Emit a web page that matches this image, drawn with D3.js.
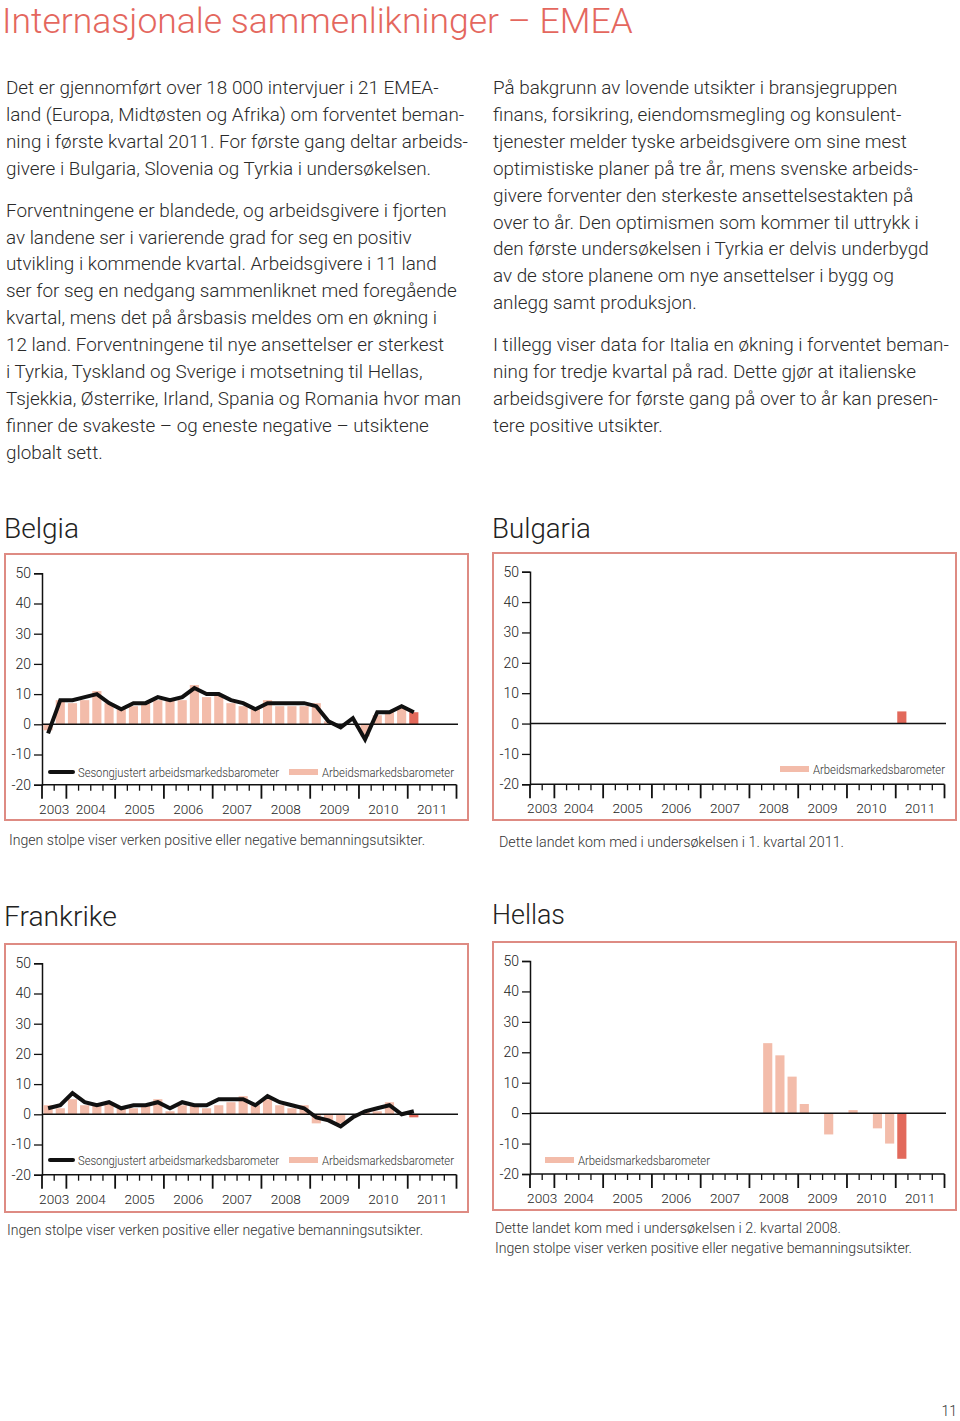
<!DOCTYPE html>
<html><head><meta charset="utf-8">
<script src="https://cdn.jsdelivr.net/npm/d3@7"></script>
<style>
body{margin:0;background:#fff}
svg{display:block}
text{font-family:Roboto,"Liberation Sans",sans-serif;}
</style>
</head><body>
<svg id="c" width="960" height="1421"></svg>
<script>
// ---------- DATA ----------
const axisQuarters = ["2003 K3","2003 K4",
  "2004 K1","2004 K2","2004 K3","2004 K4",
  "2005 K1","2005 K2","2005 K3","2005 K4",
  "2006 K1","2006 K2","2006 K3","2006 K4",
  "2007 K1","2007 K2","2007 K3","2007 K4",
  "2008 K1","2008 K2","2008 K3","2008 K4",
  "2009 K1","2009 K2","2009 K3","2009 K4",
  "2010 K1","2010 K2","2010 K3","2010 K4",
  "2011 K1","2011 K2","2011 K3","2011 K4"];
const yearLabels = ["2003","2004","2005","2006","2007","2008","2009","2010","2011"];
const yTicks = [50,40,30,20,10,0,-10,-20];

// Belgia: 2003 K3 .. 2011 K1
const belgiumLine = [-3,8,8,9,10,7,5,7,7,9,8,9,12,10,10,8,7,5,7,7,7,7,6,1,-1,2,-5,4,4,6,4];
const belgiumBars = [-2,8,7,8,11,7,5,6,7,8,8,8,13,9,10,7,6,5,8,6,6,6,7,1,0,0,-4,3,4,6,4];
// Frankrike: 2003 K3 .. 2011 K1
const franceLine = [2,3,7,4,3,4,2,3,3,4,2,4,3,3,5,5,5,3,6,4,3,2,-1,-2,-4,-1,1,2,3,0,1];
const franceBars = [3,2,5,3,3,4,2,2,3,5,1,3,3,2,3,4,6,3,5,3,2,3,-3,-2,-3,0,1,1,4,0,-1];
// Bulgaria: from 2011 K1
const bulgariaStart = "2011 K1";
const bulgariaBars = [4];
// Hellas: from 2008 K2
const hellasStart = "2008 K2";
const hellasBars = [23,19,12,3,0,-7,0,1,0,-5,-10,-15];

const legendLine = "Sesongjustert arbeidsmarkedsbarometer";
const legendBar = "Arbeidsmarkedsbarometer";

const pageTitle = "Internasjonale sammenlikninger – EMEA";
const leftText = [
 ["Det er gjennomført over 18 000 intervjuer i 21 EMEA-",
  "land (Europa, Midtøsten og Afrika) om forventet beman-",
  "ning i første kvartal 2011. For første gang deltar arbeids-",
  "givere i Bulgaria, Slovenia og Tyrkia i undersøkelsen."],
 ["Forventningene er blandede, og arbeidsgivere i fjorten",
  "av landene ser i varierende grad for seg en positiv",
  "utvikling i kommende kvartal. Arbeidsgivere i 11 land",
  "ser for seg en nedgang sammenliknet med foregående",
  "kvartal, mens det på årsbasis meldes om en økning i",
  "12 land. Forventningene til nye ansettelser er sterkest",
  "i Tyrkia, Tyskland og Sverige i motsetning til Hellas,",
  "Tsjekkia, Østerrike, Irland, Spania og Romania hvor man",
  "finner de svakeste – og eneste negative – utsiktene",
  "globalt sett."]
];
const rightText = [
 ["På bakgrunn av lovende utsikter i bransjegruppen",
  "finans, forsikring, eiendomsmegling og konsulent-",
  "tjenester melder tyske arbeidsgivere om sine mest",
  "optimistiske planer på tre år, mens svenske arbeids-",
  "givere forventer den sterkeste ansettelsestakten på",
  "over to år. Den optimismen som kommer til uttrykk i",
  "den første undersøkelsen i Tyrkia er delvis underbygd",
  "av de store planene om nye ansettelser i bygg og",
  "anlegg samt produksjon."],
 ["I tillegg viser data for Italia en økning i forventet beman-",
  "ning for tredje kvartal på rad. Dette gjør at italienske",
  "arbeidsgivere for første gang på over to år kan presen-",
  "tere positive utsikter."]
];
const noteNoBar = "Ingen stolpe viser verken positive eller negative bemanningsutsikter.";
const noteBulgaria = "Dette landet kom med i undersøkelsen i 1. kvartal 2011.";
const noteHellas = "Dette landet kom med i undersøkelsen i 2. kvartal 2008.";

// ---------- STYLE ----------
const C = {
  title:"#e4675e", text:"#2a2a2a", border:"#de8b83",
  bar:"#f3bcaa", barLast:"#e2695b", line:"#111"
};

const svg = d3.select("#c");

function fitSize(t, target, base){
  t.attr("font-size", base);
  const w = t.node().getComputedTextLength();
  t.attr("font-size", base*target/w);
  return base*target/w;
}

// ---------- TITLE ----------
const tt = svg.append("text").attr("x",2).attr("y",33).attr("fill",C.title)
  .attr("font-weight",300).text(pageTitle);
fitSize(tt, 631, 40);

// ---------- BODY TEXT ----------
const probe = svg.append("text").attr("font-weight",300).text(leftText[0][0]);
const bodySize = fitSize(probe, 433, 20);
probe.remove();

function para(x, y0, paras, gap){
  let y = y0;
  paras.forEach(p=>{
    p.forEach(line=>{
      svg.append("text").attr("x",x).attr("y",y).attr("font-size",bodySize)
        .attr("font-weight",300).attr("fill",C.text).text(line);
      y += 26.9;
    });
    y += gap;
  });
}
para(6, 94, leftText, 15);
para(493, 94, rightText, 15);

// ---------- CHARTS ----------
function drawChart(o){
  const g = svg.append("g");
  // heading
  const h = g.append("text").attr("x",o.bx-1).attr("y",o.hy).attr("fill","#222")
     .attr("font-weight",300).text(o.title);
  fitSize(h, o.hw, 28);
  // box
  g.append("rect").attr("x",o.bx).attr("y",o.by).attr("width",463).attr("height",o.bh)
    .attr("fill","none").attr("stroke",C.border).attr("stroke-width",2);

  const x = d3.scaleBand().domain(axisQuarters).range([o.bx+37, o.bx+451.5]).paddingInner(0.25).paddingOuter(0.125);
  const step = x.step();
  const x0 = o.bx+37;
  const y = d3.scaleLinear().domain([-20,50]).range([o.by+o.y20, o.by+o.y50]);

  // y axis
  const ya = d3.axisLeft(y).tickValues(yTicks).tickSize(8).tickPadding(3).tickFormat(d=>String(d));
  const yg = g.append("g").attr("transform",`translate(${x0},0)`).call(ya);
  yg.select(".domain").attr("stroke","#111").attr("stroke-width",1.5);
  yg.selectAll(".tick line").attr("stroke","#111").attr("stroke-width",1.3);
  yg.selectAll(".tick text").attr("font-size",14).attr("font-family","Roboto, sans-serif")
    .attr("font-weight",300).attr("fill","#222");

  // x axis line
  const yb = y(-20);
  g.append("line").attr("x1",x0).attr("x2",o.bx+451.5).attr("y1",yb).attr("y2",yb)
    .attr("stroke","#111").attr("stroke-width",1.5);
  // ticks: at every quarter boundary; major at year start
  const bounds = axisQuarters.map((q,i)=>({q, i, major: i===0 || q.endsWith("K1")}));
  bounds.push({q:"end", i:axisQuarters.length, major:true});
  g.selectAll(".xt").data(bounds).join("line")
    .attr("x1",d=>x0+d.i*step).attr("x2",d=>x0+d.i*step)
    .attr("y1",yb).attr("y2",d=>yb+(d.major?14:6))
    .attr("stroke","#111").attr("stroke-width",d=>d.major?1.8:1.3);
  // year labels centred in each year
  yearLabels.forEach(yr=>{
    const qs = axisQuarters.filter(q=>q.startsWith(yr));
    const left = x0 + axisQuarters.indexOf(qs[0])*step;
    const right = left + qs.length*step;
    g.append("text").attr("x",(left+right)/2).attr("y",yb+29).attr("text-anchor","middle")
      .attr("font-size",13.6).attr("font-weight",300).attr("fill","#222").text(yr);
  });

  // bars
  const si = axisQuarters.indexOf(o.start);
  const bd = o.bars.map((v,i)=>({q:axisQuarters[si+i], v, last:i===o.bars.length-1}));
  g.selectAll(".bar").data(bd.filter(d=>d.v!==0)).join("rect")
    .attr("x",d=>x(d.q)).attr("width",x.bandwidth())
    .attr("y",d=>y(Math.max(0,d.v))).attr("height",d=>Math.abs(y(d.v)-y(0)))
    .attr("fill",d=>d.last?C.barLast:C.bar);

  // zero line
  g.append("line").attr("x1",x0).attr("x2",o.bx+453).attr("y1",y(0)).attr("y2",y(0))
    .attr("stroke","#111").attr("stroke-width",1.5);

  // line
  if(o.line){
    const ld = o.line.map((v,i)=>({q:axisQuarters[si+i], v}));
    g.append("path").datum(ld)
      .attr("d", d3.line().x(d=>x(d.q)+x.bandwidth()/2).y(d=>y(d.v)))
      .attr("fill","none").attr("stroke",C.line).attr("stroke-width",4)
      .attr("stroke-linejoin","miter");
  }

  // legend
  const ly = o.by + o.ly;
  if(o.line){
    g.append("line").attr("x1",o.bx+45).attr("x2",o.bx+68).attr("y1",ly).attr("y2",ly)
      .attr("stroke",C.line).attr("stroke-width",4).attr("stroke-linecap","round");
    g.append("text").attr("x",o.bx+73).attr("y",ly+4.5).attr("font-size",12).attr("font-weight",300)
      .attr("fill","#333").attr("textLength",201).attr("lengthAdjust","spacingAndGlyphs").text(legendLine);
  }
  g.append("rect").attr("x",o.bx+o.lbx).attr("y",ly-3).attr("width",29).attr("height",6).attr("fill",C.bar);
  g.append("text").attr("x",o.bx+o.lbx+33).attr("y",ly+4.5).attr("font-size",12).attr("font-weight",300)
    .attr("fill","#333").attr("textLength",132).attr("lengthAdjust","spacingAndGlyphs").text(legendBar);

  // notes
  o.notes.forEach(n=>{
    g.append("text").attr("x",n.x).attr("y",n.y).attr("font-size",14).attr("font-weight",300)
      .attr("fill","#333").attr("textLength",n.w).attr("lengthAdjust","spacingAndGlyphs").text(n.t);
  });
}

drawChart({title:"Belgia", hy:538, hw:75, bx:5, by:554, bh:266, y50:19.3, y20:230.7,
  bars:belgiumBars, line:belgiumLine, start:axisQuarters[0], ly:218, lbx:284,
  notes:[{t:noteNoBar, x:9, y:845, w:416}]});
drawChart({title:"Bulgaria", hy:538, hw:99, bx:493, by:553, bh:267, y50:18.7, y20:231.3,
  bars:bulgariaBars, line:null, start:bulgariaStart, ly:216, lbx:287,
  notes:[{t:noteBulgaria, x:499, y:847, w:345}]});
drawChart({title:"Frankrike", hy:926, hw:113, bx:5, by:944, bh:268, y50:19.3, y20:230.7,
  bars:franceBars, line:franceLine, start:axisQuarters[0], ly:216, lbx:284,
  notes:[{t:noteNoBar, x:7, y:1235, w:416}]});
drawChart({title:"Hellas", hy:924, hw:73, bx:493, by:942, bh:268, y50:19, y20:232,
  bars:hellasBars, line:null, start:hellasStart, ly:218, lbx:52,
  notes:[{t:noteHellas, x:495, y:1233, w:346},{t:noteNoBar, x:495, y:1253, w:417}]});

// page number
svg.append("text").attr("x",957).attr("y",1416).attr("text-anchor","end").attr("font-size",14)
  .attr("font-weight",300).attr("fill","#333").text("11");
</script>
</body></html>
